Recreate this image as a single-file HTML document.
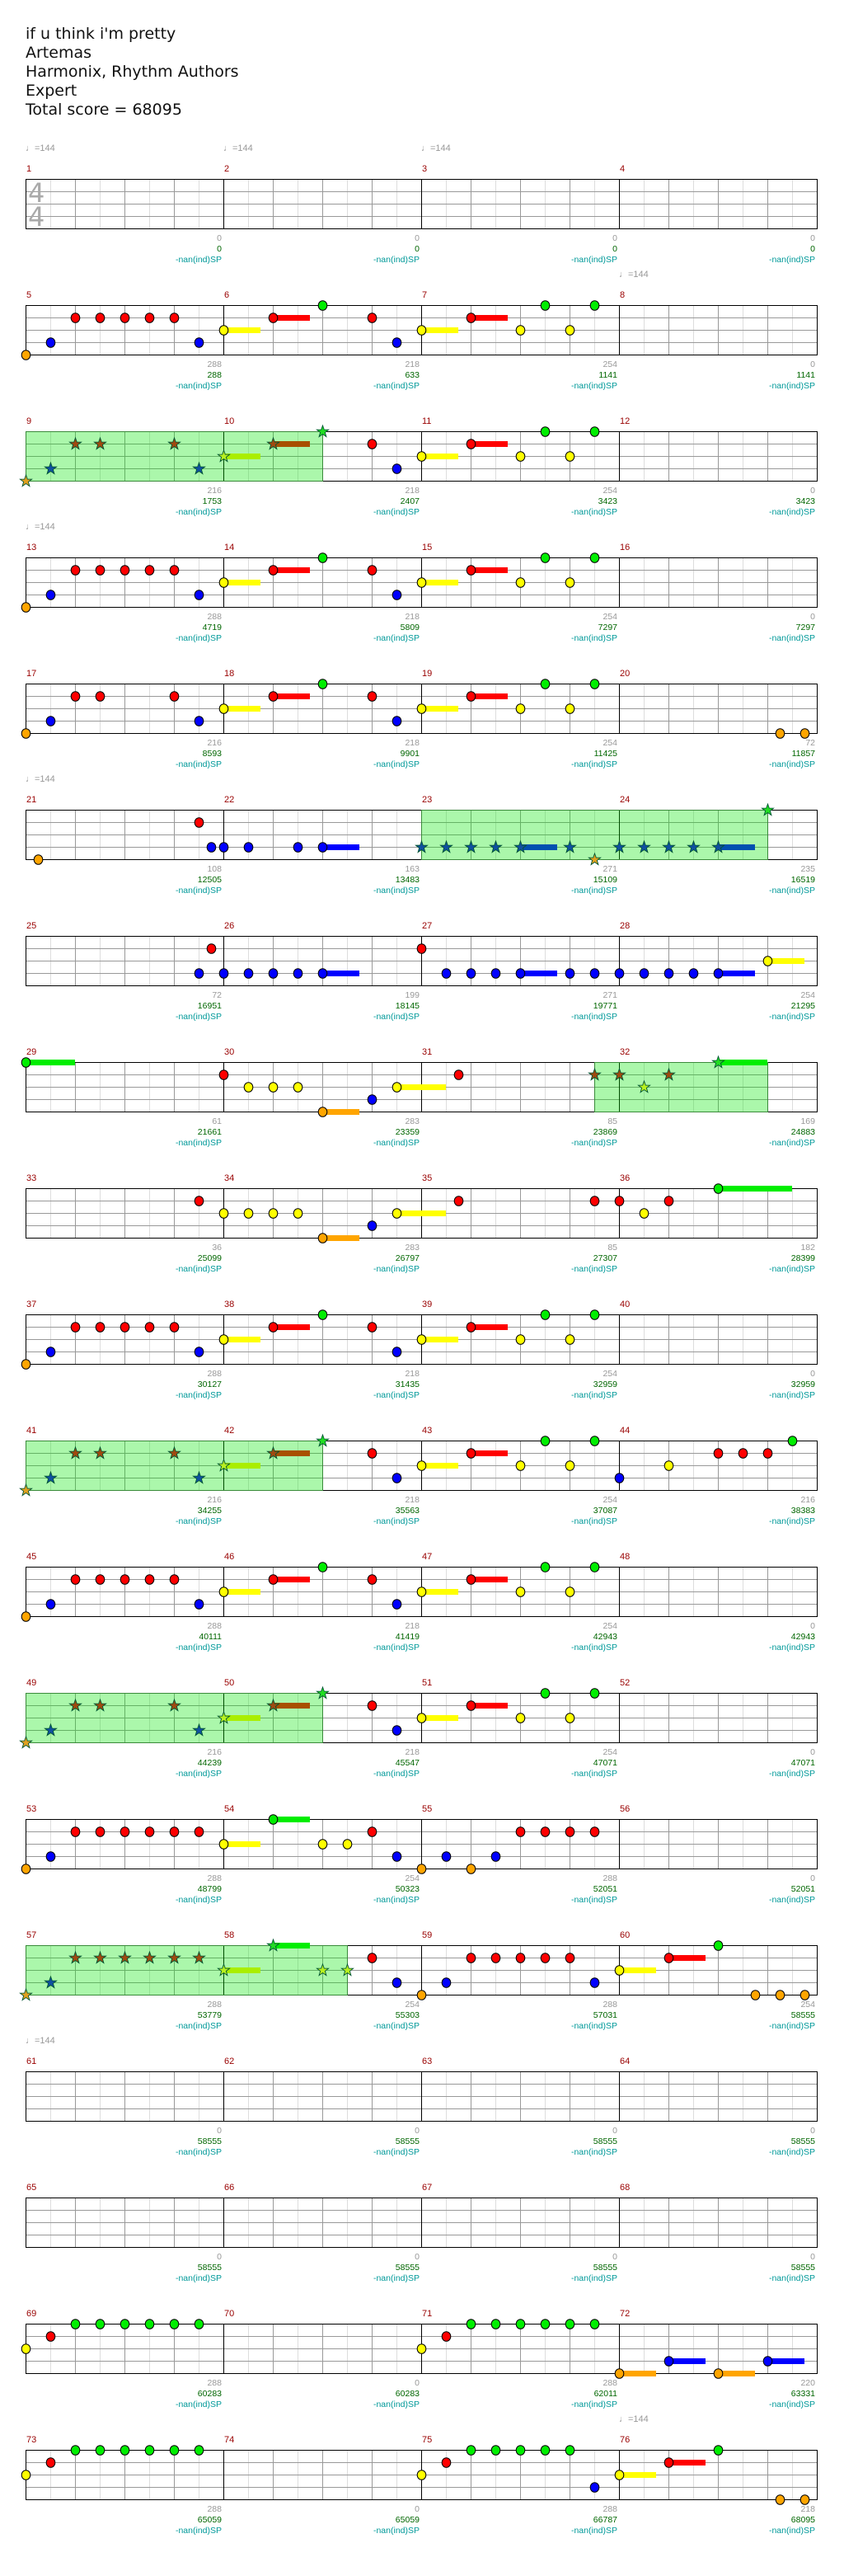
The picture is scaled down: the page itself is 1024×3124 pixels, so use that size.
<!DOCTYPE html>
<html><head><meta charset="utf-8">
<style>
html,body{margin:0;padding:0;background:#fff;}
body{width:1024px;height:3124px;position:relative;overflow:hidden;font-family:"Liberation Sans","DejaVu Sans",sans-serif;}
#svg{position:absolute;left:0;top:0;}
.title{position:absolute;left:31px;top:30px;font-family:"DejaVu Sans","Liberation Sans",sans-serif;font-size:19px;line-height:23px;color:#111;}
.row{position:absolute;left:0;width:1024px;height:153px;}
.row b{position:absolute;top:-18px;font-weight:normal;font-size:11px;line-height:12px;color:#990000;}
.n1{left:32px}.n2{left:272px}.n3{left:512px}.n4{left:752px}
.row p{position:absolute;margin:0;top:66px;text-align:right;font-size:10.5px;line-height:13px;color:#999;white-space:nowrap;}
.row p i{font-style:normal;color:#006600}
.row p u{text-decoration:none;color:#009999}
.c1{right:755px}.c2{right:515px}.c3{right:275px}.c4{right:35px}
.tp{position:absolute;top:-43px;font-size:11px;line-height:12px;color:#999;}
.ts{position:absolute;left:34px;font-family:"DejaVu Sans",sans-serif;font-size:32px;line-height:30px;color:#aaa;}
</style></head><body>
<svg id="svg" width="1024" height="3124" xmlns="http://www.w3.org/2000/svg"></svg>
<div class="title">if u think i'm pretty<br>Artemas<br>Harmonix, Rhythm Authors<br>Expert<br>Total score = 68095</div>

<div class="row" style="top:217px"><span class="tp" style="left:31px">♩=144</span><span class="tp" style="left:271px">♩=144</span><span class="tp" style="left:511px">♩=144</span><span class="ts" style="top:2px">4</span><span class="ts" style="top:31px">4</span><b class="n1">1</b><b class="n2">2</b><b class="n3">3</b><b class="n4">4</b><p class="c1">0<br><i>0</i><br><u>-nan(ind)SP</u></p><p class="c2">0<br><i>0</i><br><u>-nan(ind)SP</u></p><p class="c3">0<br><i>0</i><br><u>-nan(ind)SP</u></p><p class="c4">0<br><i>0</i><br><u>-nan(ind)SP</u></p></div>

<div class="row" style="top:370px"><span class="tp" style="left:751px">♩=144</span><b class="n1">5</b><b class="n2">6</b><b class="n3">7</b><b class="n4">8</b><p class="c1">288<br><i>288</i><br><u>-nan(ind)SP</u></p><p class="c2">218<br><i>633</i><br><u>-nan(ind)SP</u></p><p class="c3">254<br><i>1141</i><br><u>-nan(ind)SP</u></p><p class="c4">0<br><i>1141</i><br><u>-nan(ind)SP</u></p></div>

<div class="row" style="top:523px"><b class="n1">9</b><b class="n2">10</b><b class="n3">11</b><b class="n4">12</b><p class="c1">216<br><i>1753</i><br><u>-nan(ind)SP</u></p><p class="c2">218<br><i>2407</i><br><u>-nan(ind)SP</u></p><p class="c3">254<br><i>3423</i><br><u>-nan(ind)SP</u></p><p class="c4">0<br><i>3423</i><br><u>-nan(ind)SP</u></p></div>

<div class="row" style="top:676px"><span class="tp" style="left:31px">♩=144</span><b class="n1">13</b><b class="n2">14</b><b class="n3">15</b><b class="n4">16</b><p class="c1">288<br><i>4719</i><br><u>-nan(ind)SP</u></p><p class="c2">218<br><i>5809</i><br><u>-nan(ind)SP</u></p><p class="c3">254<br><i>7297</i><br><u>-nan(ind)SP</u></p><p class="c4">0<br><i>7297</i><br><u>-nan(ind)SP</u></p></div>

<div class="row" style="top:829px"><b class="n1">17</b><b class="n2">18</b><b class="n3">19</b><b class="n4">20</b><p class="c1">216<br><i>8593</i><br><u>-nan(ind)SP</u></p><p class="c2">218<br><i>9901</i><br><u>-nan(ind)SP</u></p><p class="c3">254<br><i>11425</i><br><u>-nan(ind)SP</u></p><p class="c4">72<br><i>11857</i><br><u>-nan(ind)SP</u></p></div>

<div class="row" style="top:982px"><span class="tp" style="left:31px">♩=144</span><b class="n1">21</b><b class="n2">22</b><b class="n3">23</b><b class="n4">24</b><p class="c1">108<br><i>12505</i><br><u>-nan(ind)SP</u></p><p class="c2">163<br><i>13483</i><br><u>-nan(ind)SP</u></p><p class="c3">271<br><i>15109</i><br><u>-nan(ind)SP</u></p><p class="c4">235<br><i>16519</i><br><u>-nan(ind)SP</u></p></div>

<div class="row" style="top:1135px"><b class="n1">25</b><b class="n2">26</b><b class="n3">27</b><b class="n4">28</b><p class="c1">72<br><i>16951</i><br><u>-nan(ind)SP</u></p><p class="c2">199<br><i>18145</i><br><u>-nan(ind)SP</u></p><p class="c3">271<br><i>19771</i><br><u>-nan(ind)SP</u></p><p class="c4">254<br><i>21295</i><br><u>-nan(ind)SP</u></p></div>

<div class="row" style="top:1288px"><b class="n1">29</b><b class="n2">30</b><b class="n3">31</b><b class="n4">32</b><p class="c1">61<br><i>21661</i><br><u>-nan(ind)SP</u></p><p class="c2">283<br><i>23359</i><br><u>-nan(ind)SP</u></p><p class="c3">85<br><i>23869</i><br><u>-nan(ind)SP</u></p><p class="c4">169<br><i>24883</i><br><u>-nan(ind)SP</u></p></div>

<div class="row" style="top:1441px"><b class="n1">33</b><b class="n2">34</b><b class="n3">35</b><b class="n4">36</b><p class="c1">36<br><i>25099</i><br><u>-nan(ind)SP</u></p><p class="c2">283<br><i>26797</i><br><u>-nan(ind)SP</u></p><p class="c3">85<br><i>27307</i><br><u>-nan(ind)SP</u></p><p class="c4">182<br><i>28399</i><br><u>-nan(ind)SP</u></p></div>

<div class="row" style="top:1594px"><b class="n1">37</b><b class="n2">38</b><b class="n3">39</b><b class="n4">40</b><p class="c1">288<br><i>30127</i><br><u>-nan(ind)SP</u></p><p class="c2">218<br><i>31435</i><br><u>-nan(ind)SP</u></p><p class="c3">254<br><i>32959</i><br><u>-nan(ind)SP</u></p><p class="c4">0<br><i>32959</i><br><u>-nan(ind)SP</u></p></div>

<div class="row" style="top:1747px"><b class="n1">41</b><b class="n2">42</b><b class="n3">43</b><b class="n4">44</b><p class="c1">216<br><i>34255</i><br><u>-nan(ind)SP</u></p><p class="c2">218<br><i>35563</i><br><u>-nan(ind)SP</u></p><p class="c3">254<br><i>37087</i><br><u>-nan(ind)SP</u></p><p class="c4">216<br><i>38383</i><br><u>-nan(ind)SP</u></p></div>

<div class="row" style="top:1900px"><b class="n1">45</b><b class="n2">46</b><b class="n3">47</b><b class="n4">48</b><p class="c1">288<br><i>40111</i><br><u>-nan(ind)SP</u></p><p class="c2">218<br><i>41419</i><br><u>-nan(ind)SP</u></p><p class="c3">254<br><i>42943</i><br><u>-nan(ind)SP</u></p><p class="c4">0<br><i>42943</i><br><u>-nan(ind)SP</u></p></div>

<div class="row" style="top:2053px"><b class="n1">49</b><b class="n2">50</b><b class="n3">51</b><b class="n4">52</b><p class="c1">216<br><i>44239</i><br><u>-nan(ind)SP</u></p><p class="c2">218<br><i>45547</i><br><u>-nan(ind)SP</u></p><p class="c3">254<br><i>47071</i><br><u>-nan(ind)SP</u></p><p class="c4">0<br><i>47071</i><br><u>-nan(ind)SP</u></p></div>

<div class="row" style="top:2206px"><b class="n1">53</b><b class="n2">54</b><b class="n3">55</b><b class="n4">56</b><p class="c1">288<br><i>48799</i><br><u>-nan(ind)SP</u></p><p class="c2">254<br><i>50323</i><br><u>-nan(ind)SP</u></p><p class="c3">288<br><i>52051</i><br><u>-nan(ind)SP</u></p><p class="c4">0<br><i>52051</i><br><u>-nan(ind)SP</u></p></div>

<div class="row" style="top:2359px"><b class="n1">57</b><b class="n2">58</b><b class="n3">59</b><b class="n4">60</b><p class="c1">288<br><i>53779</i><br><u>-nan(ind)SP</u></p><p class="c2">254<br><i>55303</i><br><u>-nan(ind)SP</u></p><p class="c3">288<br><i>57031</i><br><u>-nan(ind)SP</u></p><p class="c4">254<br><i>58555</i><br><u>-nan(ind)SP</u></p></div>

<div class="row" style="top:2512px"><span class="tp" style="left:31px">♩=144</span><b class="n1">61</b><b class="n2">62</b><b class="n3">63</b><b class="n4">64</b><p class="c1">0<br><i>58555</i><br><u>-nan(ind)SP</u></p><p class="c2">0<br><i>58555</i><br><u>-nan(ind)SP</u></p><p class="c3">0<br><i>58555</i><br><u>-nan(ind)SP</u></p><p class="c4">0<br><i>58555</i><br><u>-nan(ind)SP</u></p></div>

<div class="row" style="top:2665px"><b class="n1">65</b><b class="n2">66</b><b class="n3">67</b><b class="n4">68</b><p class="c1">0<br><i>58555</i><br><u>-nan(ind)SP</u></p><p class="c2">0<br><i>58555</i><br><u>-nan(ind)SP</u></p><p class="c3">0<br><i>58555</i><br><u>-nan(ind)SP</u></p><p class="c4">0<br><i>58555</i><br><u>-nan(ind)SP</u></p></div>

<div class="row" style="top:2818px"><b class="n1">69</b><b class="n2">70</b><b class="n3">71</b><b class="n4">72</b><p class="c1">288<br><i>60283</i><br><u>-nan(ind)SP</u></p><p class="c2">0<br><i>60283</i><br><u>-nan(ind)SP</u></p><p class="c3">288<br><i>62011</i><br><u>-nan(ind)SP</u></p><p class="c4">220<br><i>63331</i><br><u>-nan(ind)SP</u></p></div>

<div class="row" style="top:2971px"><span class="tp" style="left:751px">♩=144</span><b class="n1">73</b><b class="n2">74</b><b class="n3">75</b><b class="n4">76</b><p class="c1">288<br><i>65059</i><br><u>-nan(ind)SP</u></p><p class="c2">0<br><i>65059</i><br><u>-nan(ind)SP</u></p><p class="c3">288<br><i>66787</i><br><u>-nan(ind)SP</u></p><p class="c4">218<br><i>68095</i><br><u>-nan(ind)SP</u></p></div>

<script>
(function(){
var L=31,B=60;
function T(k){return 217+153*k;}
var A=[[0,4],[.5,3],[1,1],[1.5,1],[2,1],[2.5,1],[3,1],[3.5,3],[4,2,.75],[5,1,.75],[6,0],[7,1],[7.5,3],[8,2,.75],[9,1,.75],[10,2],[10.5,0],[11,2],[11.5,0]];
var S=[[0,4],[.5,3],[1,1],[1.5,1],[3,1],[3.5,3],[4,2,.75],[5,1,.75],[6,0],[7,1],[7.5,3],[8,2,.75],[9,1,.75],[10,2],[10.5,0],[11,2],[11.5,0]];
var R5=[[0,4],[.5,3],[1,1],[1.5,1],[3,1],[3.5,3],[4,2,.75],[5,1,.75],[6,0],[7,1],[7.5,3],[8,2,.75],[9,1,.75],[10,2],[10.5,0],[11,2],[11.5,0],[15.25,4],[15.75,4]];
var rows=[
 {n:[]},
 {n:A},
 {sp:[0,6],n:S},
 {n:A},
 {n:R5},
 {sp:[8,15],n:[[0.25,4],[3.5,1],[3.75,3],[4,3],[4.5,3],[5.5,3],[6,3,.75],[8,3],[8.5,3],[9,3],[9.5,3],[10,3,.75],[11,3],[11.5,4],[12,3],[12.5,3],[13,3],[13.5,3],[14,3,.75],[15,0]]},
 {n:[[3.5,3],[3.75,1],[4,3],[4.5,3],[5,3],[5.5,3],[6,3,.75],[8,1],[8.5,3],[9,3],[9.5,3],[10,3,.75],[11,3],[11.5,3],[12,3],[12.5,3],[13,3],[13.5,3],[14,3,.75],[15,2,.75]]},
 {sp:[11.5,15],n:[[0,0,1],[4,1],[4.5,2],[5,2],[5.5,2],[6,4,.75],[7,3],[7.5,2,1],[8.75,1],[11.5,1],[12,1],[12.5,2],[13,1],[14,0,1]]},
 {n:[[3.5,1],[4,2],[4.5,2],[5,2],[5.5,2],[6,4,.75],[7,3],[7.5,2,1],[8.75,1],[11.5,1],[12,1],[12.5,2],[13,1],[14,0,1.5]]},
 {n:A},
 {sp:[0,6],n:S.concat([[12,3],[13,2],[14,1],[14.5,1],[15,1],[15.5,0]])},
 {n:A},
 {sp:[0,6],n:S},
 {n:[[0,4],[.5,3],[1,1],[1.5,1],[2,1],[2.5,1],[3,1],[3.5,1],[4,2,.75],[5,0,.75],[6,2],[6.5,2],[7,1],[7.5,3],[8,4],[8.5,3],[9,4],[9.5,3],[10,1],[10.5,1],[11,1],[11.5,1]]},
 {sp:[0,6.5],n:[[0,4],[.5,3],[1,1],[1.5,1],[2,1],[2.5,1],[3,1],[3.5,1],[4,2,.75],[5,0,.75],[6,2],[6.5,2],[7,1],[7.5,3],[8,4],[8.5,3],[9,1],[9.5,1],[10,1],[10.5,1],[11,1],[11.5,3],[12,2,.75],[13,1,.75],[14,0],[14.75,4],[15.25,4],[15.75,4]]},
 {n:[]},{n:[]},
 {n:[[0,2],[.5,1],[1,0],[1.5,0],[2,0],[2.5,0],[3,0],[3.5,0],[8,2],[8.5,1],[9,0],[9.5,0],[10,0],[10.5,0],[11,0],[11.5,0],[12,4,.75],[13,3,.75],[14,4,.75],[15,3,.75]]},
 {n:[[0,2],[.5,1],[1,0],[1.5,0],[2,0],[2.5,0],[3,0],[3.5,0],[8,2],[8.5,1],[9,0],[9.5,0],[10,0],[10.5,0],[11,0],[11.5,3],[12,2,.75],[13,1,.75],[14,0],[15.25,4],[15.75,4]]}
];
var NC=['#00ee00','#ff0000','#ffff00','#0000ff','#ffa500'];
var SC=['#22dd22','#a04a10','#b8f020','#1050a0','#e0a020'];
var SUS=['#00ee00','#a85000','#aaee00','#0050b0','#ffa500'];
var o=[];
function star(cx,cy,c){var p=[];for(var i=0;i<10;i++){var r=i%2?3:7.5;var a=-Math.PI/2+i*Math.PI/5;p.push((cx+r*Math.cos(a)).toFixed(1)+','+(cy+r*Math.sin(a)).toFixed(1));}
 o.push('<polygon points="'+p.join(' ')+'" fill="'+c+'" stroke="#053" stroke-width="0.9"/>');}
for(var k=0;k<rows.length;k++){
 var t=T(k),i,x;
 for(i=0;i<=32;i++){x=L+30*i+.5;if(i%2==1)o.push('<line x1="'+x+'" y1="'+t+'" x2="'+x+'" y2="'+(t+60)+'" stroke="#dddddd"/>');}
 for(i=1;i<4;i++){o.push('<line x1="'+L+'" y1="'+(t+15*i+.5)+'" x2="'+(L+960)+'" y2="'+(t+15*i+.5)+'" stroke="#999"/>');}
 for(i=0;i<=32;i+=2){x=L+30*i+.5;if(i%8)o.push('<line x1="'+x+'" y1="'+t+'" x2="'+x+'" y2="'+(t+60)+'" stroke="#999"/>');}
 for(i=0;i<=32;i+=8){x=L+30*i+.5;o.push('<line x1="'+x+'" y1="'+t+'" x2="'+x+'" y2="'+(t+60)+'" stroke="#000"/>');}
 o.push('<rect x="'+(L+.5)+'" y="'+(t+.5)+'" width="960" height="60" fill="none" stroke="#000"/>');
 var r=rows[k],sp=r.sp;
 if(sp)o.push('<rect x="'+(L+B*sp[0]+.5)+'" y="'+(t+.5)+'" width="'+(B*(sp[1]-sp[0]))+'" height="60" fill="rgba(0,230,0,0.33)" stroke="#3a8a3a"/>');
 r.n.forEach(function(n){var isS=sp&&n[0]>=sp[0]-0.01&&n[0]<=sp[1]+0.01;var cx=L+B*n[0],cy=t+15*n[1]+.5;
  if(n[2])o.push('<rect x="'+cx+'" y="'+(cy-3.5)+'" width="'+(B*n[2])+'" height="7" fill="'+(isS?SUS[n[1]]:NC[n[1]])+'"/>');});
 r.n.forEach(function(n){var isS=sp&&n[0]>=sp[0]-0.01&&n[0]<=sp[1]+0.01;var cx=L+B*n[0]+.5,cy=t+15*n[1]+.5;
  if(isS)star(cx,cy,SC[n[1]]);else o.push('<ellipse cx="'+cx+'" cy="'+cy+'" rx="5.3" ry="5.8" fill="'+NC[n[1]]+'" stroke="#000" stroke-width="1"/>');});
}
document.getElementById('svg').innerHTML=o.join('');
})();
</script>
</body></html>
